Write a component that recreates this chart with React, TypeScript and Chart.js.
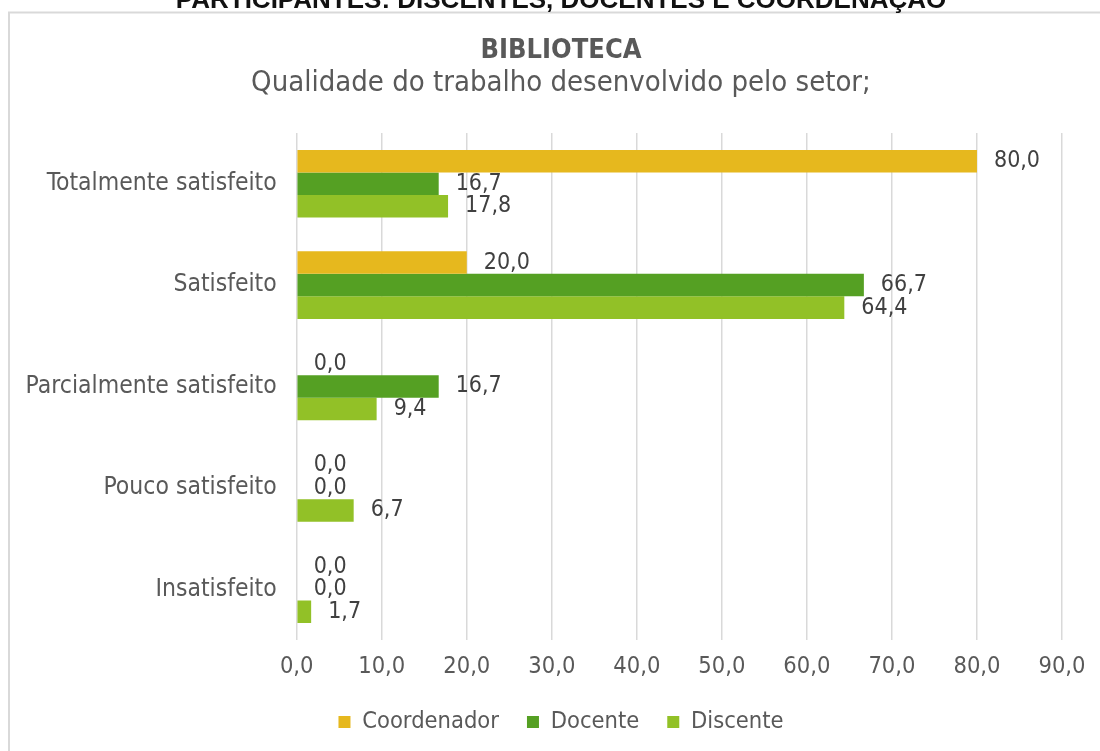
import React, { useEffect, useRef } from "react";
import { Chart, registerables } from "chart.js";

Chart.register(...registerables);

const categories = [
  "Totalmente satisfeito",
  "Satisfeito",
  "Parcialmente satisfeito",
  "Pouco satisfeito",
  "Insatisfeito",
];
const coordenador = [80.0, 20.0, 0.0, 0.0, 0.0];
const docente = [16.7, 66.7, 16.7, 0.0, 0.0];
const discente = [17.8, 64.4, 9.4, 6.7, 1.7];
const seriesNames = ["Coordenador", "Docente", "Discente"];
const seriesColors = ["#E6B81E", "#55A023", "#92C127"];
const headerText = "PARTICIPANTES: DISCENTES, DOCENTES E COORDENAÇÃO";
const titleText = "BIBLIOTECA";
const subtitleText = "Qualidade do trabalho desenvolvido pelo setor;";
const xMin = 0;
const xMax = 90;
const xStep = 10;

const FONT = "'DejaVu Sans Condensed', 'DejaVu Sans', sans-serif";
const fmt = (v: number) => v.toFixed(1).replace(".", ",");

const framePlugin = {
  id: "frame",
  beforeDraw(chart: any) {
    const ctx = chart.ctx;
    ctx.save();
    ctx.fillStyle = "#ffffff";
    ctx.fillRect(0, 0, chart.width, chart.height);
    ctx.strokeStyle = "#d9d9d9";
    ctx.lineWidth = 2;
    ctx.strokeRect(9, 12.5, chart.width + 40, chart.height + 40);
    ctx.fillStyle = "#111111";
    ctx.font = "bold 26px 'Liberation Sans', Arial, sans-serif";
    ctx.textAlign = "center";
    ctx.textBaseline = "alphabetic";
    ctx.fillText(headerText, 561, 7.5);
    ctx.restore();
  },
};

const valueLabelPlugin = {
  id: "valueLabels",
  afterDatasetsDraw(chart: any) {
    const ctx = chart.ctx;
    ctx.save();
    ctx.font = `23px ${FONT}`;
    ctx.fillStyle = "#404040";
    ctx.textAlign = "left";
    ctx.textBaseline = "middle";
    chart.data.datasets.forEach((ds: any, di: number) => {
      const meta = chart.getDatasetMeta(di);
      meta.data.forEach((el: any, i: number) => {
        ctx.fillText(fmt(ds.data[i]), el.x + 17, el.y);
      });
    });
    ctx.restore();
  },
};

export default function App() {
  const ref = useRef<HTMLCanvasElement | null>(null);

  useEffect(() => {
    if (!ref.current) return;
    const chart = new Chart(ref.current, {
      type: "bar",
      data: {
        labels: categories,
        datasets: [
          { label: seriesNames[0], data: coordenador, backgroundColor: seriesColors[0], yAxisID: "y" },
          { label: seriesNames[1], data: docente, backgroundColor: seriesColors[1], yAxisID: "y" },
          { label: seriesNames[2], data: discente, backgroundColor: seriesColors[2], yAxisID: "y" },
        ],
      },
      options: {
        indexAxis: "y",
        responsive: false,
        animation: false,
        devicePixelRatio: 1,
        datasets: {
          bar: { categoryPercentage: 0.667, barPercentage: 1.0 },
        },
        layout: { padding: { top: 0, left: 10, right: 10, bottom: 7.25 } },
        scales: {
          y: {
            position: "left",
            ticks: {
              padding: 20,
              color: "#595959",
              font: { family: FONT, size: 24.5 },
            },
            grid: { display: false, drawTicks: false },
            border: { display: false },
            afterFit: (s: any) => {
              s.width = 286.7;
            },
          },
          y2: {
            type: "category",
            position: "right",
            display: true,
            ticks: { display: false },
            grid: { display: false, drawTicks: false },
            border: { display: false },
            afterFit: (s: any) => {
              s.width = 50;
            },
          },
          x: {
            min: xMin,
            max: xMax,
            ticks: {
              stepSize: xStep,
              padding: 13,
              color: "#595959",
              font: { family: FONT, size: 23.5 },
              callback: (v: any) => fmt(Number(v)),
            },
            grid: { color: "#d9d9d9", lineWidth: 1.5, drawTicks: false },
            border: { display: false },
            afterFit: (s: any) => {
              s.height = 42.25;
            },
          },
        },
        plugins: {
          title: {
            display: true,
            text: titleText,
            color: "#595959",
            font: { family: FONT, size: 27, weight: "bold", lineHeight: 0.9 },
            padding: { top: 38.5, bottom: 0 },
          },
          subtitle: {
            display: true,
            text: subtitleText,
            color: "#595959",
            font: { family: FONT, size: 29, lineHeight: 1.0 },
            padding: { top: 6, bottom: 35.2 },
          },
          legend: {
            position: "bottom",
            labels: {
              boxWidth: 12,
              boxHeight: 12,
              padding: 28,
              color: "#595959",
              font: { family: FONT, size: 23.5 },
            },
          },
          tooltip: { enabled: false },
        },
      },
      plugins: [framePlugin, valueLabelPlugin],
    } as any);
    return () => chart.destroy();
  }, []);

  return (
    <div
      style={{
        position: "fixed",
        left: 0,
        top: 0,
        width: 1100,
        height: 751,
        overflow: "hidden",
        background: "#ffffff",
      }}
    >
      <canvas ref={ref} width={1122} height={751} style={{ display: "block", width: 1122, height: 751 }} />
    </div>
  );
}
